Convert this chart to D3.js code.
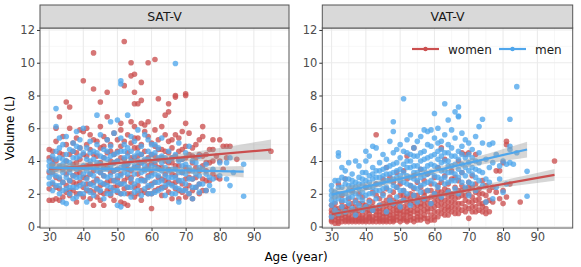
<!DOCTYPE html>
<html>
<head>
<meta charset="utf-8">
<script src="https://cdn.jsdelivr.net/npm/d3@7"></script>
<style>
  body { margin: 0; background: #fff; }
  text { font-family: "DejaVu Sans", sans-serif; }
</style>
</head>
<body>
<div id="chart"></div>
<script>
// facets and groups
const facets = ['SAT-V', 'VAT-V'];
const groups = ['women', 'men'];
const xTicks = [30, 40, 50, 60, 70, 80, 90];
const xMinor = [35, 45, 55, 65, 75, 85, 95];
const yTicks = [0, 2, 4, 6, 8, 10, 12];
const yMinor = [1, 3, 5, 7, 9, 11];

// rows: [age, volume, volume, ...]
const satWomen = [
  [30, 1.6, 4.2, 4.7, 3.3, 2.3], [31, 1.6, 2.6, 4.1, 3.8, 3.3, 4.6], [32, 1.7, 2.4, 5.2, 3.0, 6.0, 4.0],
  [33, 2.3, 3.6, 6.7, 2.9, 1.6, 4.5], [34, 1.8, 2.7, 4.4, 5.5, 3.5], [35, 2.1, 3.2, 7.6, 4.0, 2.5, 5.0],
  [36, 1.9, 2.8, 7.3, 6.0, 3.5, 2.2, 4.4], [37, 2.2, 4.6, 3.1, 5.1, 2.7, 3.8], [38, 1.5, 2.6, 3.9, 5.4, 2.0, 3.2, 4.5],
  [39, 2.0, 3.3, 4.8, 2.7, 4.1, 5.9], [40, 8.9, 2.4, 3.6, 5.8, 1.8, 3.0, 4.4], [41, 2.2, 3.0, 4.3, 5.0, 2.6, 3.7, 6.0],
  [42, 2.6, 1.7, 3.8, 5.6, 4.7, 2.2, 3.2], [43, 10.6, 8.4, 2.1, 3.4, 4.4, 1.3, 2.7, 5.3], [44, 2.9, 3.7, 5.2, 2.3, 4.3, 1.8],
  [45, 7.6, 6.1, 2.5, 3.9, 4.8, 1.6, 3.3, 2.1], [46, 2.0, 3.1, 5.5, 4.2, 1.3, 2.6, 3.6, 4.9], [47, 8.2, 6.7, 2.7, 3.6, 4.5, 2.2, 5.3],
  [48, 2.2, 3.3, 5.0, 1.9, 4.0, 2.8, 4.6], [49, 2.8, 3.9, 5.7, 1.6, 2.4, 3.4, 4.4], [50, 2.1, 3.5, 4.6, 5.3, 2.9, 2.5, 4.0],
  [51, 6.3, 1.5, 2.6, 3.2, 4.9, 5.9, 2.0, 4.2], [52, 11.3, 8.6, 2.3, 3.7, 4.1, 1.4, 2.8, 5.2],
  [53, 1.3, 2.4, 3.0, 4.5, 5.6, 3.8, 3.5, 2.0], [54, 10.0, 9.2, 2.0, 3.4, 5.1, 6.4, 2.7, 4.2, 3.0],
  [55, 9.3, 8.2, 7.5, 6.1, 1.8, 3.6, 4.8, 2.4, 4.2, 5.4], [56, 7.5, 2.5, 3.2, 4.3, 5.4, 2.0, 3.7, 4.8],
  [57, 8.8, 7.7, 6.3, 2.2, 3.9, 5.0, 1.6, 2.9, 4.4], [58, 6.2, 2.8, 3.5, 4.6, 5.8, 2.1, 4.0],
  [59, 10.0, 6.4, 2.4, 3.1, 4.2, 5.5, 3.7, 2.0], [60, 1.1, 2.0, 3.3, 4.4, 5.1, 2.6, 3.9],
  [61, 10.2, 2.7, 3.8, 4.9, 5.9, 2.2, 4.3], [62, 7.8, 2.3, 3.0, 4.1, 5.3, 3.6, 4.7],
  [63, 2.9, 3.6, 4.7, 1.9, 6.1, 2.4, 4.2], [64, 6.8, 2.4, 3.2, 4.0, 5.6, 2.8, 4.6],
  [65, 7.5, 7.0, 2.1, 3.5, 4.5, 5.2, 2.7, 3.9], [66, 2.6, 3.9, 4.8, 1.7, 3.2, 4.2, 5.3],
  [67, 8.0, 7.9, 2.3, 3.1, 4.3, 5.6, 2.7, 3.7], [68, 2.8, 3.7, 4.6, 5.4, 1.7, 2.2, 4.1],
  [69, 2.1, 3.3, 4.1, 5.8, 2.6, 4.7], [70, 8.1, 8.0, 6.3, 1.8, 2.9, 3.6, 4.9, 2.3, 4.2],
  [71, 2.5, 3.4, 4.4, 5.7, 3.0, 2.0], [72, 2.2, 3.9, 4.8, 1.7, 2.9, 4.3], [73, 3.0, 3.6, 5.0, 4.2, 2.4],
  [74, 2.6, 4.4, 5.3, 3.4, 2.0], [75, 6.1, 2.9, 3.7, 5.5, 2.2, 4.3], [76, 2.2, 3.4, 4.4, 2.8, 3.9],
  [77, 3.9, 4.7, 2.8], [78, 4.7, 3.2, 5.3, 4.0], [79, 3.0, 4.3], [80, 5.3, 4.0, 2.9], [81, 4.9, 3.5],
  [82, 4.9, 4.2], [83, 4.9], [85, 4.1], [95, 4.6]
];
const satMen = [
  [30, 2.6, 3.4, 4.0, 3.0, 3.7], [31, 3.2, 4.3, 2.2, 3.8, 2.7], [32, 7.2, 6.1, 2.5, 3.5, 4.6, 3.1, 4.1],
  [33, 2.0, 3.0, 4.8, 5.4, 3.7, 2.5, 4.2], [34, 1.5, 2.7, 4.1, 3.3, 5.0, 2.2, 3.8], [35, 1.4, 2.3, 3.6, 4.4, 5.5, 3.0, 4.0],
  [36, 2.8, 3.9, 4.7, 2.0, 3.3, 2.4], [37, 1.7, 3.1, 4.2, 5.1, 2.4, 3.6, 4.6], [38, 2.4, 3.5, 4.9, 1.8, 5.8, 3.0, 4.2],
  [39, 2.0, 3.0, 4.3, 5.3, 2.5, 3.6, 4.8], [40, 6.0, 2.6, 3.7, 4.5, 3.2, 2.0], [41, 1.5, 2.9, 3.4, 4.8, 2.3, 4.1],
  [42, 2.1, 3.2, 4.0, 5.2, 2.6, 3.6, 4.5], [43, 2.5, 3.6, 4.6, 1.9, 3.1, 4.1], [44, 6.8, 2.8, 3.9, 5.0, 2.3, 3.4, 4.5],
  [45, 2.2, 3.3, 4.3, 5.6, 2.7, 3.8], [46, 2.6, 3.5, 4.7, 1.7, 3.1, 4.2], [47, 2.0, 3.0, 4.1, 5.3, 2.5, 3.5, 4.6],
  [48, 6.4, 2.4, 3.7, 4.9, 2.0, 3.1, 4.3], [49, 2.8, 3.4, 4.4, 5.7, 2.2, 3.9], [50, 6.5, 1.3, 2.2, 3.1, 4.0, 2.7, 3.5, 4.5],
  [51, 8.9, 8.7, 1.2, 2.6, 3.6, 4.6, 5.4, 3.1, 2.0], [52, 2.0, 3.3, 4.2, 5.0, 2.6, 3.7, 4.6], [53, 6.8, 2.4, 3.8, 4.8, 3.2, 4.3],
  [54, 1.8, 2.9, 3.5, 5.5, 2.4, 4.0, 4.6], [55, 2.6, 3.2, 4.3, 5.2, 3.7, 2.1], [56, 2.2, 3.6, 4.5, 5.9, 2.8, 4.0],
  [57, 1.9, 2.8, 3.9, 4.9, 3.3, 4.4], [58, 2.3, 3.4, 4.1, 5.6, 2.8, 3.7], [59, 2.0, 3.0, 4.6, 5.3, 2.5, 3.5, 4.1],
  [60, 2.5, 3.7, 4.4, 3.1, 2.0, 5.0], [61, 2.1, 3.2, 4.0, 5.0, 2.7, 3.6, 4.5], [62, 2.7, 3.5, 4.8, 2.2, 3.1, 4.2],
  [63, 2.3, 3.9, 4.3, 5.4, 2.8, 3.4], [64, 1.9, 3.1, 3.6, 2.5, 4.2], [65, 2.6, 3.4, 4.6, 3.0, 4.0],
  [66, 2.0, 3.0, 4.2, 2.5, 3.5], [67, 9.95, 2.4, 3.5, 4.4, 3.0, 2.0], [68, 1.5, 2.8, 3.3, 5.1, 2.3, 4.0],
  [69, 2.2, 3.7, 4.1, 2.8, 3.3], [70, 2.6, 3.2, 4.5, 2.2, 3.8], [71, 2.0, 3.6, 4.9, 2.9],
  [72, 1.7, 2.9, 3.4, 2.4, 4.0], [73, 2.4, 3.9, 3.2], [74, 2.1, 3.1, 4.3, 2.6, 3.6], [75, 2.6, 3.5],
  [76, 2.2, 3.8, 3.2], [77, 2.5, 3.0], [78, 2.2, 3.5, 2.9], [80, 3.1, 3.9], [82, 2.9, 3.9], [83, 2.5, 4.2],
  [84, 3.3], [87, 3.8, 1.85]
];
const vatWomen = [
  [30, 0.3, 0.6, 1.0, 1.3, 0.4, 0.8], [31, 0.4, 0.8, 1.4, 0.2, 0.6, 1.1], [32, 0.3, 0.7, 1.1, 2.6, 0.5, 0.2, 0.9],
  [33, 0.5, 0.9, 1.5, 0.3, 1.9, 0.7, 1.2], [34, 0.4, 0.8, 1.2, 0.6, 2.9, 0.3, 1.0], [35, 0.3, 0.7, 1.3, 1.7, 0.5, 1.0, 0.4],
  [36, 0.4, 0.9, 1.0, 2.2, 0.3, 0.6, 1.4], [37, 0.3, 0.6, 1.2, 1.6, 0.8, 0.4, 1.0], [38, 0.5, 1.0, 1.4, 0.3, 2.0, 0.7, 0.4],
  [39, 0.4, 0.7, 1.1, 1.8, 0.3, 0.5, 1.4], [40, 0.3, 0.6, 0.9, 1.3, 2.4, 0.4, 1.1], [41, 0.5, 0.8, 1.2, 1.6, 0.3, 0.6, 1.0],
  [42, 0.4, 1.0, 1.5, 2.1, 0.3, 0.6, 1.2], [43, 5.6, 0.3, 0.7, 1.1, 1.9, 2.6, 0.5, 0.9], [44, 0.5, 0.9, 1.3, 1.7, 0.4, 0.3, 0.7, 1.1],
  [45, 0.4, 0.8, 1.4, 2.0, 2.9, 0.3, 0.6, 1.1], [46, 0.3, 0.6, 1.0, 1.6, 2.3, 3.6, 0.4, 0.8, 1.3], [47, 0.5, 0.9, 1.2, 1.8, 3.0, 0.3, 0.7, 1.5],
  [48, 0.4, 0.7, 1.3, 2.1, 2.7, 0.3, 0.5, 1.0, 1.6], [49, 0.6, 1.0, 1.5, 2.4, 3.3, 0.4, 0.8, 1.2], [50, 0.3, 0.8, 1.2, 1.9, 2.6, 0.5, 1.0, 1.5],
  [51, 0.5, 0.9, 1.6, 2.2, 3.4, 0.4, 0.7, 1.2, 1.9], [52, 0.4, 0.7, 1.1, 1.8, 2.9, 4.3, 0.3, 0.9, 1.4], [53, 0.6, 1.0, 1.4, 2.0, 2.5, 0.4, 0.8, 1.7],
  [54, 4.8, 0.5, 0.9, 1.5, 2.3, 3.1, 0.3, 1.2, 1.9], [55, 0.4, 0.8, 1.3, 1.9, 2.7, 0.6, 1.0, 1.6], [56, 0.6, 1.2, 1.7, 2.4, 3.5, 0.4, 0.9, 1.4],
  [57, 0.5, 1.0, 1.6, 2.1, 2.8, 0.7, 1.3, 1.9], [58, 0.3, 0.9, 1.4, 2.2, 3.2, 0.5, 1.1, 1.7], [59, 0.7, 1.1, 1.8, 2.6, 0.4, 1.4, 2.2],
  [60, 0.4, 0.9, 1.5, 2.0, 3.0, 0.6, 1.2, 1.8], [61, 0.6, 1.3, 1.9, 2.5, 3.6, 0.9, 1.6, 2.2], [62, 4.8, 0.8, 1.4, 2.1, 2.7, 1.1, 1.7],
  [63, 1.0, 1.6, 2.3, 3.1, 4.1, 0.7, 1.3, 2.0], [64, 0.7, 1.2, 1.8, 2.6, 1.0, 1.5, 2.2], [65, 0.9, 1.5, 2.0, 2.9, 3.4, 1.2, 1.8],
  [66, 1.1, 1.7, 2.4, 3.0, 0.8, 1.4, 2.0], [67, 0.8, 1.4, 2.2, 2.8, 4.0, 1.1, 1.8], [68, 1.0, 1.9, 2.5, 3.3, 4.5, 1.4, 2.2],
  [69, 1.2, 1.6, 2.3, 4.4, 0.9, 1.9], [70, 0.5, 1.1, 2.0, 2.7, 4.5, 1.5, 2.4], [71, 0.9, 1.5, 2.4, 3.1, 1.2, 1.8],
  [72, 1.2, 2.1, 2.6, 4.4, 0.9, 1.6], [73, 1.0, 1.7, 2.3, 1.4, 2.0], [74, 0.9, 1.4, 2.0, 2.8, 1.2], [75, 1.1, 1.9, 2.5, 0.8, 1.5],
  [76, 0.9, 1.6, 2.2], [77, 1.5, 2.4], [78, 2.1, 3.4], [79, 3.4, 1.7], [80, 3.9, 2.2, 1.4],
  [81, 5.2, 5.0, 1.8], [82, 2.6], [85, 1.5], [95, 4.0]
];
const vatMen = [
  [30, 0.6, 1.3, 1.9, 2.5, 1.6, 2.2], [31, 1.0, 2.1, 2.8, 1.5, 1.8], [32, 4.5, 4.3, 0.8, 1.7, 2.4, 2.0, 2.8],
  [33, 1.2, 2.0, 3.0, 3.6, 1.6, 2.4], [34, 0.9, 1.6, 2.6, 3.4, 2.0, 2.9], [35, 1.4, 2.2, 3.9, 2.9, 1.8, 2.5],
  [36, 1.1, 1.8, 2.5, 3.2, 2.1, 2.8], [37, 0.7, 2.0, 2.7, 4.0, 1.5, 2.4], [38, 1.3, 2.3, 3.0, 3.7, 1.8, 2.6],
  [39, 1.6, 2.6, 3.3, 1.0, 2.1, 2.9], [40, 4.6, 4.0, 1.9, 2.8, 1.2, 2.4, 3.3], [41, 1.5, 2.4, 3.1, 4.3, 2.0, 2.7],
  [42, 4.9, 1.0, 2.0, 2.9, 3.6, 2.4, 3.2], [43, 4.8, 1.7, 2.6, 3.4, 2.2, 3.0], [44, 1.3, 2.2, 3.0, 3.9, 2.6, 3.4],
  [45, 1.9, 2.7, 3.5, 4.4, 2.3, 3.1], [46, 0.9, 2.4, 3.2, 4.1, 2.8, 3.6], [47, 1.6, 2.8, 3.7, 5.2, 2.2, 3.2],
  [48, 6.4, 5.8, 1.4, 2.5, 3.3, 4.5, 2.9, 3.8], [49, 1.8, 3.0, 3.9, 4.7, 2.4, 3.4], [50, 1.2, 2.2, 3.5, 5.0, 4.2, 2.8, 3.1],
  [51, 7.8, 1.6, 2.7, 3.8, 4.6, 2.2, 3.3], [52, 2.0, 3.1, 4.0, 5.3, 2.6, 3.6, 4.5], [53, 1.3, 2.5, 3.6, 4.4, 5.6, 3.0, 4.0],
  [54, 1.9, 2.9, 3.3, 4.8, 2.4, 3.7, 4.3], [55, 1.5, 2.3, 3.7, 4.3, 5.2, 2.8, 3.3], [56, 2.1, 3.0, 4.0, 5.5, 2.5, 3.5, 4.5],
  [57, 5.9, 1.7, 2.6, 3.5, 4.6, 3.1, 4.1], [58, 5.8, 2.2, 3.2, 4.2, 5.0, 2.7, 3.7], [59, 5.9, 1.4, 2.8, 3.8, 4.9, 3.3, 4.3],
  [60, 6.9, 2.0, 3.1, 4.4, 5.4, 2.6, 3.7], [61, 6.0, 2.4, 3.6, 4.1, 5.1, 3.0, 4.6], [62, 5.2, 1.8, 2.9, 3.9, 4.7, 3.4, 4.3],
  [63, 7.5, 2.6, 3.4, 4.5, 5.6, 3.0, 4.0], [64, 6.5, 2.1, 3.3, 4.0, 5.0, 2.7, 3.7, 4.5], [65, 2.8, 3.7, 4.8, 5.9, 3.3, 4.3],
  [66, 7.0, 2.3, 3.2, 4.3, 5.4, 2.8, 3.8], [67, 7.3, 6.75, 6.7, 2.0, 3.5, 4.6, 3.0, 4.1], [68, 5.7, 2.7, 3.8, 4.9, 3.3, 4.4],
  [69, 2.4, 3.1, 4.2, 5.3, 3.6], [70, 1.9, 3.4, 4.4, 5.1, 2.7, 3.9], [71, 2.6, 3.6, 4.7, 3.2, 4.2], [72, 2.2, 3.0, 4.0, 5.5, 3.5],
  [73, 6.1, 2.8, 3.9, 4.5, 3.4], [74, 6.55, 5.1, 2.5, 3.3], [75, 1.5, 2.9, 4.1], [76, 5.0, 2.7, 3.6],
  [77, 5.1, 1.7, 3.9], [78, 2.4, 4.4], [79, 2.9, 3.7], [80, 4.0, 2.1], [81, 3.8, 2.6],
  [82, 6.55, 4.9, 3.9, 4.7], [83, 3.8], [84, 8.54, 4.5], [87, 3.37, 1.85]
];

// fitted lines [age, value] and bands [age, low, high]
const satWomenFit = [[30, 3.5], [95, 4.7]];
const satMenFit = [[30, 3.6], [87, 3.35]];
const vatWomenFit = [[30, 0.75], [95, 3.15]];
const vatMenFit = [[30, 1.95], [87, 4.7]];
const satWomenBand = [[30, 3.18, 3.82], [45, 3.58, 3.98], [55, 3.79, 4.13], [70, 3.99, 4.49], [95, 4.08, 5.32]];
const satMenBand = [[30, 3.35, 3.85], [45, 3.38, 3.68], [55, 3.35, 3.63], [70, 3.22, 3.62], [87, 3.01, 3.69]];
const vatWomenBand = [[30, 0.55, 0.95], [45, 1.18, 1.42], [55, 1.56, 1.78], [70, 2.08, 2.38], [95, 2.79, 3.51]];
const vatMenBand = [[30, 1.6, 2.3], [45, 2.47, 2.87], [55, 2.99, 3.33], [70, 3.64, 4.12], [87, 4.22, 5.18]];

const width = 581; const height = 267;
const color = d3.scaleOrdinal().domain(groups).range(['#CB4F4F', '#4FA6EC']);

const panels = [
  {name: facets[0], left: 40, right: 289,
   pts: {women: satWomen, men: satMen}, fit: {women: satWomenFit, men: satMenFit},
   band: {women: satWomenBand, men: satMenBand}},
  {name: facets[1], left: 322.3, right: 572.7,
   pts: {women: vatWomen, men: vatMen}, fit: {women: vatWomenFit, men: vatMenFit},
   band: {women: vatWomenBand, men: vatMenBand}}
];
const stripTop = 5; const panelTop = 28; const panelBottom = 228;

const svg = d3.select('#chart').append('svg')
    .attr('width', width)
    .attr('height', height);

const yScale = d3.scaleLinear().domain([-0.09, 12.12]).range([panelBottom, panelTop]);
const unrow = rows => rows.flatMap(([a, ...vs]) => vs.map(v => ({age: a, v: v})));

panels.forEach((p, i) => {
    const xScale = d3.scaleLinear().domain([27.3, 100.3]).range([p.left, p.right]);
    const g = svg.append('g');
    const w = p.right - p.left;

    // grid
    g.selectAll('.ymin').data(yMinor).enter().append('line')
        .attr('x1', p.left).attr('x2', p.right)
        .attr('y1', d => yScale(d)).attr('y2', d => yScale(d))
        .attr('stroke', '#F2F2F2').attr('stroke-width', 0.6);
    g.selectAll('.xmin').data(xMinor).enter().append('line')
        .attr('y1', panelTop).attr('y2', panelBottom)
        .attr('x1', d => xScale(d)).attr('x2', d => xScale(d))
        .attr('stroke', '#F2F2F2').attr('stroke-width', 0.6);
    g.selectAll('.ymaj').data(yTicks).enter().append('line')
        .attr('x1', p.left).attr('x2', p.right)
        .attr('y1', d => yScale(d)).attr('y2', d => yScale(d))
        .attr('stroke', '#EBEBEB').attr('stroke-width', 1.1);
    g.selectAll('.xmaj').data(xTicks).enter().append('line')
        .attr('y1', panelTop).attr('y2', panelBottom)
        .attr('x1', d => xScale(d)).attr('x2', d => xScale(d))
        .attr('stroke', '#EBEBEB').attr('stroke-width', 1.1);

    // points
    groups.forEach(grp => {
        g.append('g').selectAll('circle').data(unrow(p.pts[grp])).enter().append('circle')
            .attr('cx', d => xScale(d.age))
            .attr('cy', d => yScale(d.v))
            .attr('r', 2.8)
            .attr('fill', color(grp))
            .attr('fill-opacity', 0.78);
    });

    // smooth bands and lines
    const area = d3.area().curve(d3.curveMonotoneX)
        .x(d => xScale(d[0])).y0(d => yScale(d[1])).y1(d => yScale(d[2]));
    const line = d3.line().x(d => xScale(d[0])).y(d => yScale(d[1]));
    groups.forEach(grp => {
        g.append('path').datum(p.band[grp]).attr('d', area)
            .attr('fill', '#999999').attr('fill-opacity', 0.4);
        g.append('path').datum(p.fit[grp]).attr('d', line)
            .attr('stroke', color(grp)).attr('stroke-width', 2.2).attr('fill', 'none');
    });

    // panel border and strip
    g.append('rect').attr('x', p.left).attr('y', panelTop).attr('width', w)
        .attr('height', panelBottom - panelTop)
        .attr('fill', 'none').attr('stroke', '#555').attr('stroke-width', 1);
    g.append('rect').attr('x', p.left).attr('y', stripTop).attr('width', w)
        .attr('height', panelTop - stripTop)
        .attr('fill', '#D9D9D9').attr('stroke', '#555').attr('stroke-width', 1);
    g.append('text').attr('x', p.left + w / 2).attr('y', (stripTop + panelTop) / 2 + 4.5)
        .attr('text-anchor', 'middle').attr('font-size', 12.5).attr('fill', '#1A1A1A')
        .text(p.name);

    // axes
    const xAxis = d3.axisBottom(xScale).tickValues(xTicks).tickSize(3).tickPadding(2);
    const xg = g.append('g').attr('transform', `translate(0, ${panelBottom})`).call(xAxis);
    const yAxis = d3.axisLeft(yScale).tickValues(yTicks).tickSize(3).tickPadding(2);
    const yg = g.append('g').attr('transform', `translate(${p.left}, 0)`).call(yAxis);
    [xg, yg].forEach(a => {
        a.select('.domain').remove();
        a.selectAll('line').attr('stroke', '#333');
        a.selectAll('text').attr('font-size', 11.5).attr('fill', '#4D4D4D')
            .attr('font-family', '"DejaVu Sans", sans-serif');
    });
});

// axis titles
svg.append('text').attr('x', 296).attr('y', 261).attr('text-anchor', 'middle')
    .attr('font-size', 12).text('Age (year)');
svg.append('text').attr('transform', 'translate(14, 128) rotate(-90)')
    .attr('text-anchor', 'middle').attr('font-size', 12).text('Volume (L)');

// legend inside right panel
const legend = svg.append('g');
const legendItems = [{g: 'women', x: 412, tx: 448}, {g: 'men', x: 499, tx: 535}];
legendItems.forEach(d => {
    legend.append('line').attr('x1', d.x).attr('x2', d.x + 27).attr('y1', 49).attr('y2', 49)
        .attr('stroke', color(d.g)).attr('stroke-width', 2.2);
    legend.append('circle').attr('cx', d.x + 13.5).attr('cy', 49).attr('r', 2.2)
        .attr('fill', color(d.g));
    legend.append('text').attr('x', d.tx).attr('y', 53.5).attr('font-size', 12)
        .attr('fill', '#1A1A1A').text(d.g);
});
</script>
</body>
</html>
